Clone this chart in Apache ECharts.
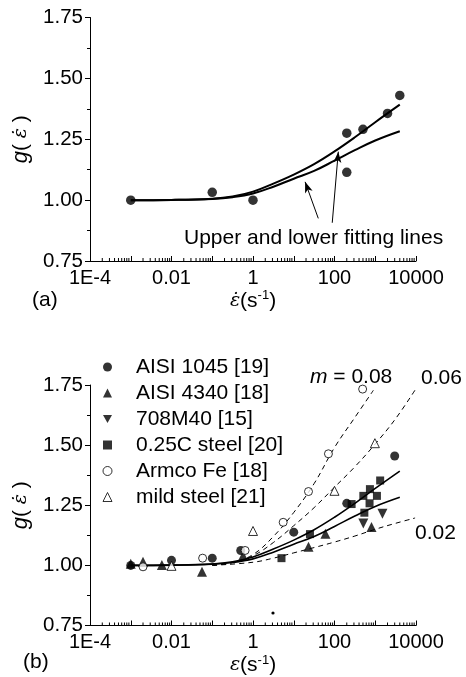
<!DOCTYPE html>
<html>
<head>
<meta charset="utf-8">
<script src="https://cdn.jsdelivr.net/npm/echarts@6/dist/echarts.min.js"></script>
<style>
html,body{margin:0;padding:0;background:#fff;}
#chart{width:466px;height:677px;}
</style>
</head>
<body>
<div id="chart"></div>
<script>
// ---------- tick labels ----------
const xTickExps = [-4, -2, 0, 2, 4];
const xTickLabels = ['1E-4', '0.01', '1', '100', '10000'];
const yTickValues = [0.75, 1.00, 1.25, 1.50, 1.75];

// ---------- panel (a) ----------
const topRate = [0.001, 0.1, 1, 200, 200, 500, 2000, 4000];
const topG    = [1.00, 1.032, 1.00, 1.275, 1.114, 1.291, 1.356, 1.43];

// fitting lines
const fitRate  = [0.001, 0.01, 0.1, 0.316, 1, 3.16, 10, 31.6, 100, 316, 1000, 4000];
const upperFit = [1.000, 1.001, 1.006, 1.015, 1.035, 1.068, 1.105, 1.148, 1.200, 1.258, 1.320, 1.392];
const lowerFit = [1.000, 1.001, 1.005, 1.012, 1.027, 1.055, 1.088, 1.120, 1.162, 1.205, 1.245, 1.283];

// ---------- panel (b) ----------
const seriesNames = ['AISI 1045 [19]', 'AISI 4340 [18]', '708M40 [15]', '0.25C steel [20]', 'Armco Fe [18]', 'mild steel [21]'];
const aisi1045Rate = [0.001, 0.01, 0.1, 0.5, 10, 200, 3000];
const aisi1045G    = [1.00, 1.021, 1.03, 1.062, 1.138, 1.258, 1.455];
const aisi4340Rate = [0.001, 0.002, 0.0058, 0.056, 0.57, 23, 60, 810];
const aisi4340G    = [1.007, 1.015, 1.002, 0.973, 1.04, 1.077, 1.131, 1.16];
const m708Rate = [510, 1500];
const m708G    = [1.174, 1.215];
const c025Rate = [5, 25, 263, 510, 540, 740, 725, 1100, 1320];
const c025G    = [1.03, 1.13, 1.255, 1.289, 1.219, 1.317, 1.258, 1.289, 1.353];
const armcoRate = [0.002, 0.058, 0.64, 5.5, 23, 71, 490];
const armcoG    = [0.994, 1.03, 1.062, 1.179, 1.307, 1.464, 1.733];
const mildRate = [0.01, 1.0, 100, 980];
const mildG    = [0.998, 1.143, 1.31, 1.508];

// dashed m-lines
const m008Rate = [0.1, 0.316, 1, 3.16, 10, 31.6, 100, 316, 900];
const m008G    = [1.00, 1.012, 1.045, 1.12, 1.22, 1.34, 1.49, 1.615, 1.728];
const m006Rate = [0.1, 0.316, 1, 3.16, 10, 31.6, 100, 316, 1000, 3162, 10000];
const m006G    = [1.00, 1.012, 1.04, 1.095, 1.165, 1.24, 1.325, 1.41, 1.505, 1.61, 1.735];
const m002Rate = [0.1, 1, 3.16, 10, 31.6, 100, 316, 1000, 3162, 9500];
const m002G    = [1.00, 1.013, 1.03, 1.052, 1.074, 1.097, 1.122, 1.15, 1.175, 1.197];

// arrows (panel a), data coords: [from, to]
const arrowLines = [
  [[40, 0.925], [19, 1.075]],
  [[88, 0.907], [124, 1.199]]
];

// log minor tick positions (2..9 per decade)
const minorTicks = [];
for (let e = -4; e < 4; e++) for (let m = 2; m <= 9; m++) minorTicks.push([m * Math.pow(10, e), 0.75]);

const zip = (a, b) => a.map((v, i) => [v, b[i]]);
const FONT = 'Liberation Sans';
const EPS_FONT = 'DejaVu Serif';

function xAxis(gridIndex) {
  return {
    type: 'log', logBase: 10, gridIndex: gridIndex,
    min: 0.0001, max: 10000, splitNumber: 8,
    axisLine: {show: true, lineStyle: {color: '#000', width: 1}},
    axisTick: {show: true, inside: true, length: 5, lineStyle: {color: '#000'}},
    minorTick: {show: false},
    splitLine: {show: false},
    axisLabel: {
      color: '#000', fontSize: 20, fontFamily: FONT, margin: 7,
      showMinLabel: true, showMaxLabel: true,
      formatter: function (v) {
        const e = Math.round(Math.log10(v));
        const i = xTickExps.indexOf(e);
        return i >= 0 ? xTickLabels[i] : '';
      }
    },
    name: gridIndex === 0 ? '{e|\u03b5\u0307}{t|(s}{sup|-1}{t|)}' : '{e|\u03b5}{t|(s}{sup|-1}{t|)}',
    nameLocation: 'middle', nameGap: 28,
    nameTextStyle: {
      color: '#000', fontSize: 20, fontFamily: FONT,
      rich: {
        e: {fontFamily: EPS_FONT, fontStyle: 'italic', fontSize: 19, color: '#000', lineHeight: 24},
        t: {fontSize: 21, fontFamily: FONT, color: '#000', lineHeight: 24},
        sup: {fontSize: 13, fontFamily: FONT, color: '#000', verticalAlign: 'top', lineHeight: 14}
      }
    }
  };
}
function yAxis(gridIndex) {
  return {
    type: 'value', gridIndex: gridIndex,
    min: 0.75, max: 1.75, interval: 0.25,
    axisLine: {show: true, lineStyle: {color: '#000', width: 1}},
    axisTick: {show: true, inside: false, length: 5, lineStyle: {color: '#000'}},
    minorTick: {show: true, splitNumber: 2, length: 3, lineStyle: {color: '#000'}},
    splitLine: {show: false},
    axisLabel: {
      color: '#000', fontSize: 20.5, fontFamily: FONT, margin: 7,
      formatter: v => v.toFixed(2)
    },
    name: '{g|g}{t|( }{e|\u03b5\u0307}{t| )}',
    nameLocation: 'middle', nameRotate: 90, nameGap: 46,
    nameTextStyle: {
      color: '#000', fontSize: 20, fontFamily: FONT,
      rich: {
        g: {fontStyle: 'italic', fontSize: 22, fontFamily: FONT, color: '#000'},
        t: {fontSize: 21, fontFamily: FONT, color: '#000'},
        e: {fontFamily: EPS_FONT, fontStyle: 'italic', fontSize: 19, color: '#000'}
      }
    }
  };
}

function minorTickSeries(idx) {
  return {
    type: 'custom', xAxisIndex: idx, yAxisIndex: idx, silent: true, clip: false,
    data: minorTicks, z: 1,
    renderItem: function (params, api) {
      const p = api.coord([api.value(0), api.value(1)]);
      return {type: 'line', shape: {x1: p[0], y1: p[1], x2: p[0], y2: p[1] - 3},
              style: {stroke: '#000', lineWidth: 1}};
    }
  };
}

function lineSeries(name, idx, rate, g, dashed, width) {
  return {
    name: name, type: 'line', xAxisIndex: idx, yAxisIndex: idx,
    data: zip(rate, g), smooth: 0.4, showSymbol: false, symbol: 'none',
    lineStyle: {color: '#000', width: width, type: dashed ? [5, 4] : 'solid'},
    silent: true, z: 2
  };
}

const black = '#000';
const chart = echarts.init(document.getElementById('chart'), null, {renderer: 'canvas'});
const option = {
  animation: false,
  backgroundColor: '#fff',
  textStyle: {fontFamily: FONT},
  grid: [
    {left: 90, top: 17.5, width: 326, height: 243.5},
    {left: 90, top: 385, width: 326, height: 241}
  ],
  xAxis: [xAxis(0), xAxis(1)],
  yAxis: [yAxis(0), yAxis(1)],
  legend: {
    orient: 'vertical', left: 102.5, top: 356, padding: 0,
    itemWidth: 9, itemHeight: 9, itemGap: 4,
    textStyle: {fontSize: 21, fontFamily: FONT, color: '#000', padding: [0, 0, 0, 19], lineHeight: 22},
    data: [
      {name: seriesNames[0], icon: 'circle', itemStyle: {color: black, borderWidth: 0}},
      {name: seriesNames[1], icon: 'triangle', itemStyle: {color: black, borderWidth: 0}},
      {name: seriesNames[2], icon: 'path://M0,0 L10,0 L5,9 Z', itemStyle: {color: black, borderWidth: 0}},
      {name: seriesNames[3], icon: 'rect', itemStyle: {color: black, borderWidth: 0}},
      {name: seriesNames[4], icon: 'circle', itemStyle: {color: '#fff', borderColor: black, borderWidth: 1}},
      {name: seriesNames[5], icon: 'triangle', itemStyle: {color: '#fff', borderColor: black, borderWidth: 1}}
    ],
    selectedMode: false
  },
  series: [
    minorTickSeries(0),
    minorTickSeries(1),
    // panel a
    lineSeries('upper fit a', 0, fitRate, upperFit, false, 2),
    Object.assign(lineSeries('lower fit a', 0, fitRate, lowerFit, false, 2), {
      markLine: {
        silent: true, symbol: ['none', 'arrow'], symbolSize: [6, 11],
        label: {show: false},
        lineStyle: {color: '#000', width: 1, type: 'solid'},
        data: arrowLines.map(a => [{coord: a[0]}, {coord: a[1]}])
      }
    }),
    {name: 'data a', type: 'scatter', xAxisIndex: 0, yAxisIndex: 0, data: zip(topRate, topG),
     symbol: 'circle', symbolSize: 9.5, itemStyle: {color: black}, z: 3},
    // panel b lines
    lineSeries('m=0.08', 1, m008Rate, m008G, true, 1),
    lineSeries('m=0.06', 1, m006Rate, m006G, true, 1),
    lineSeries('m=0.02', 1, m002Rate, m002G, true, 1),
    lineSeries('upper fit b', 1, fitRate, upperFit, false, 1.6),
    lineSeries('lower fit b', 1, fitRate, lowerFit, false, 1.6),
    // panel b data
    {name: seriesNames[0], type: 'scatter', xAxisIndex: 1, yAxisIndex: 1, data: zip(aisi1045Rate, aisi1045G),
     symbol: 'circle', symbolSize: 9, itemStyle: {color: black}, z: 4},
    {name: seriesNames[1], type: 'scatter', xAxisIndex: 1, yAxisIndex: 1, data: zip(aisi4340Rate, aisi4340G),
     symbol: 'triangle', symbolSize: 10, itemStyle: {color: black}, z: 4},
    {name: seriesNames[2], type: 'scatter', xAxisIndex: 1, yAxisIndex: 1, data: zip(m708Rate, m708G),
     symbol: 'triangle', symbolRotate: 180, symbolSize: 10, itemStyle: {color: black}, z: 4},
    {name: seriesNames[3], type: 'scatter', xAxisIndex: 1, yAxisIndex: 1, data: zip(c025Rate, c025G),
     symbol: 'rect', symbolSize: 8, itemStyle: {color: black}, z: 4},
    {name: seriesNames[4], type: 'scatter', xAxisIndex: 1, yAxisIndex: 1, data: zip(armcoRate, armcoG),
     symbol: 'circle', symbolSize: 8, itemStyle: {color: '#fff', borderColor: black, borderWidth: 1}, z: 4},
    {name: seriesNames[5], type: 'scatter', xAxisIndex: 1, yAxisIndex: 1, data: zip(mildRate, mildG),
     symbol: 'triangle', symbolSize: 9, itemStyle: {color: '#fff', borderColor: black, borderWidth: 1}, z: 4}
  ],
  graphic: [
    {type: 'text', x: 32, y: 300, style: {text: '(a)', fontSize: 21, fontFamily: FONT, fill: '#000', verticalAlign: 'middle'}},
    {type: 'text', x: 23, y: 662, style: {text: '(b)', fontSize: 21, fontFamily: FONT, fill: '#000', verticalAlign: 'middle'}},
    {type: 'text', x: 184, y: 238, style: {text: 'Upper and lower fitting lines', fontSize: 21, fontFamily: FONT, fill: '#000', verticalAlign: 'middle'}},
    {type: 'text', x: 310, y: 377, style: {text: '{i|m} = 0.08', fontSize: 21, fontFamily: FONT, fill: '#000', verticalAlign: 'middle',
      rich: {i: {fontStyle: 'italic', fontSize: 21, fontFamily: FONT}}}},
    {type: 'text', x: 421, y: 378, style: {text: '0.06', fontSize: 21, fontFamily: FONT, fill: '#000', verticalAlign: 'middle'}},
    {type: 'text', x: 415, y: 533, style: {text: '0.02', fontSize: 21, fontFamily: FONT, fill: '#000', verticalAlign: 'middle'}},
    {type: 'circle', shape: {cx: 273, cy: 613, r: 1.6}, style: {fill: '#000'}}
  ]
};
chart.setOption(option);
</script>
</body>
</html>
